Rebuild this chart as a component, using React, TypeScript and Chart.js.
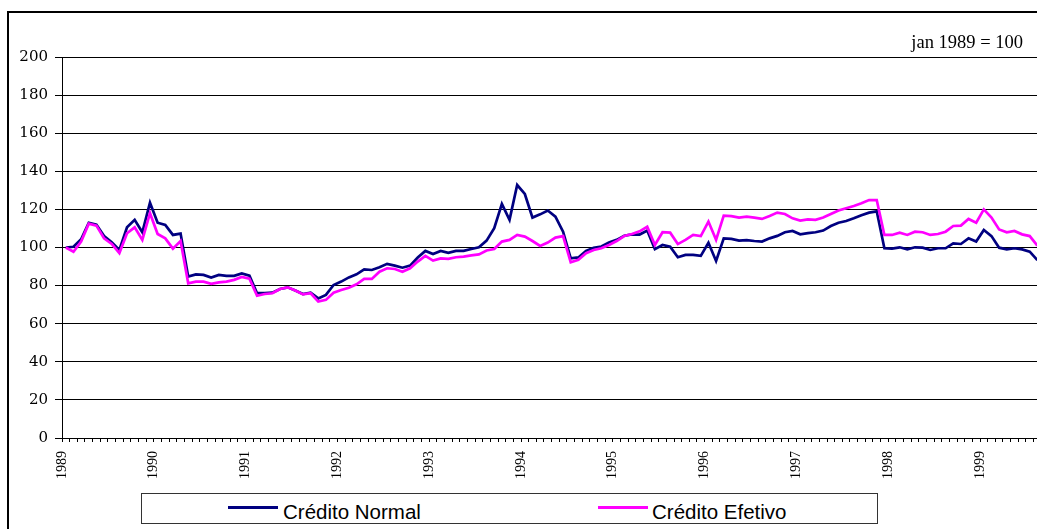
import React, { useEffect, useRef } from "react";
import { Chart, registerables } from "chart.js";

Chart.register(...registerables);

// Years shown on the x axis (one label every 12 months, starting Jan 1989)
const yearLabels = ["1989", "1990", "1991", "1992", "1993", "1994", "1995", "1996", "1997", "1998", "1999"];

// Monthly index, jan 1989 = 100 (Jan 1989 .. Aug 1999)
const creditoNormal = [
  100, 100.4, 104.3, 113, 112, 106, 102.7, 98.7, 110.6, 114.5, 108, 123.5,
  113, 111.8, 106.6, 107.3, 84.7, 85.9, 85.6, 84.2, 85.6, 85.1, 85.1, 86.4,
  85.2, 76, 76, 76.3, 78.2, 79.1, 77.4, 75.6, 76.3, 73.3, 75.1, 80.3,
  82.1, 84.3, 85.9, 88.5, 88.2, 89.6, 91.4, 90.5, 89.4, 90.5, 94.7, 98.2,
  96.6, 98.2, 97.2, 98.2, 98.2, 99.2, 100.1, 103.6, 110.1, 122.9, 114.5, 132.8,
  128.1, 115.7, 117.4, 119.4, 116.2, 108.3, 94.3, 94.8, 98.2, 99.9, 100.5, 102.6,
  104, 106.2, 106.9, 106.8, 108.9, 99.1, 101.3, 100.4, 94.9, 96.1, 96.1, 95.6,
  102.5, 92.9, 104.8, 104.5, 103.6, 103.9, 103.4, 103.1, 104.8, 106.1, 108, 108.7,
  106.9, 107.5, 108, 108.9, 111.3, 113, 113.9, 115.3, 116.9, 118.3, 119, 99.6,
  99.4, 100.1, 99.05, 100.1, 99.9, 98.7, 99.6, 99.6, 102.2, 101.85, 104.8, 103.1,
  109.2, 106, 99.9, 99, 99.6, 99, 97.8, 93.4,
];

const creditoEfetivo = [
  100, 97.8, 103.1, 112.5, 111.5, 104.8, 101.9, 97, 107.5, 110.6, 104, 118,
  107.1, 104.8, 99.4, 103.4, 81.2, 82.1, 82.1, 80.9, 81.7, 82.1, 83, 84.5,
  83.6, 74.7, 75.6, 76, 78.2, 79.1, 77.4, 75.4, 76, 71.6, 72.5, 76.3,
  77.7, 78.9, 80.7, 83.5, 83.5, 87.3, 89.1, 88.7, 87.3, 89.1, 92.6, 95.6,
  93.1, 94.3, 94, 94.9, 95.2, 95.9, 96.4, 98.4, 99.2, 103.1, 104, 106.6,
  105.7, 103.4, 100.8, 102.6, 105.2, 106, 92.2, 93.5, 97, 98.7, 99.6, 101.3,
  103.4, 106, 107.1, 108.5, 110.9, 101.3, 108, 107.8, 101.8, 104, 106.6, 106,
  113.6, 104, 116.7, 116.5, 115.7, 116.2, 115.7, 115, 116.5, 118.3, 117.6, 115.3,
  114.1, 114.8, 114.5, 115.7, 117.6, 119.4, 120.6, 121.8, 123.2, 124.9, 124.9, 106.6,
  106.6, 107.8, 106.6, 108.3, 108, 106.6, 107.1, 108.3, 111.3, 111.5, 115, 113,
  120, 115.7, 109.5, 108, 108.7, 106.9, 106, 101,
];

const seriesNames = ["Crédito Normal", "Crédito Efetivo"];
const baseNote = "jan 1989 = 100";

export default function App() {
  const canvasRef = useRef<HTMLCanvasElement | null>(null);

  useEffect(() => {
    if (!canvasRef.current) return;
    const chart = new Chart(canvasRef.current, {
      type: "line",
      data: {
        datasets: [
          {
            label: seriesNames[0],
            data: creditoNormal.map((y, i) => ({ x: i + 0.5, y })),
            borderColor: "#000080",
            backgroundColor: "#000080",
            borderWidth: 2.7,
            pointRadius: 0,
            tension: 0,
            fill: false,
            order: 1,
          },
          {
            label: seriesNames[1],
            data: creditoEfetivo.map((y, i) => ({ x: i + 0.5, y })),
            borderColor: "#FF00FF",
            backgroundColor: "#FF00FF",
            borderWidth: 2.7,
            pointRadius: 0,
            tension: 0,
            fill: false,
            order: 0,
          },
        ],
      },
      options: {
        animation: false,
        responsive: false,
        maintainAspectRatio: false,
        events: [],
        layout: { padding: { left: 0, top: 57, right: 0, bottom: 41 } },
        plugins: { legend: { display: false }, tooltip: { enabled: false }, title: { display: false } },
        scales: {
          x: {
            type: "linear",
            min: 0,
            max: 127.45,
            afterFit: (s: any) => {
              s.height = 50;
              s.paddingLeft = 0;
              s.paddingRight = 0;
            },
            grid: { drawOnChartArea: false, drawTicks: true, tickLength: 4, color: "#000", tickWidth: 1 },
            border: { color: "#000", width: 1 },
            ticks: {
              stepSize: 1,
              autoSkip: false,
              includeBounds: false,
              minRotation: 90,
              maxRotation: 90,
              padding: 9,
              color: "#000",
              font: { family: "Liberation Serif, serif", size: 14 },
              callback: (v: any) => {
                const n = Math.round(Number(v));
                return n % 12 === 0 && yearLabels[n / 12] ? yearLabels[n / 12] : "";
              },
            },
          },
          y: {
            min: 0,
            max: 200,
            afterFit: (s: any) => {
              s.width = 62;
              s.paddingTop = 0;
              s.paddingBottom = 0;
            },
            grid: { color: "#000", lineWidth: 1, tickLength: 7, drawTicks: true },
            border: { color: "#000", width: 1 },
            ticks: {
              stepSize: 20,
              padding: 7,
              color: "#000",
              font: { family: "DejaVu Serif, serif", size: 15 },
            },
          },
        },
      },
    });
    return () => chart.destroy();
  }, []);

  return (
    <div
      style={{
        position: "fixed",
        left: 0,
        top: 0,
        width: 1037,
        height: 529,
        overflow: "hidden",
        background: "#fff",
      }}
    >
      <div
        style={{
          position: "absolute",
          left: 7,
          top: 11,
          width: 1100,
          height: 600,
          border: "2px solid #000",
        }}
      />
      <canvas
        ref={canvasRef}
        width={1037}
        height={529}
        style={{ position: "absolute", left: 0, top: 0, display: "block" }}
      />
      <div
        style={{
          position: "absolute",
          right: 14,
          top: 32,
          font: "18.5px 'Liberation Serif'",
          lineHeight: "20px",
          color: "#000",
          whiteSpace: "nowrap",
        }}
      >
        {baseNote}
      </div>
      <div
        style={{
          position: "absolute",
          left: 141,
          top: 493,
          width: 737,
          height: 31,
          boxSizing: "border-box",
          border: "1px solid #333",
          background: "#fff",
        }}
      >
        <div style={{ position: "absolute", left: 86, top: 12, width: 50, height: 3, background: "#000080" }} />
        <div
          style={{
            position: "absolute",
            left: 141,
            top: 8,
            font: "20.5px 'Liberation Sans'",
            lineHeight: "20.5px",
            whiteSpace: "nowrap",
            color: "#000",
          }}
        >
          {seriesNames[0]}
        </div>
        <div style={{ position: "absolute", left: 456, top: 12, width: 50, height: 3, background: "#FF00FF" }} />
        <div
          style={{
            position: "absolute",
            left: 510,
            top: 8,
            font: "20.5px 'Liberation Sans'",
            lineHeight: "20.5px",
            whiteSpace: "nowrap",
            color: "#000",
          }}
        >
          {seriesNames[1]}
        </div>
      </div>
    </div>
  );
}
